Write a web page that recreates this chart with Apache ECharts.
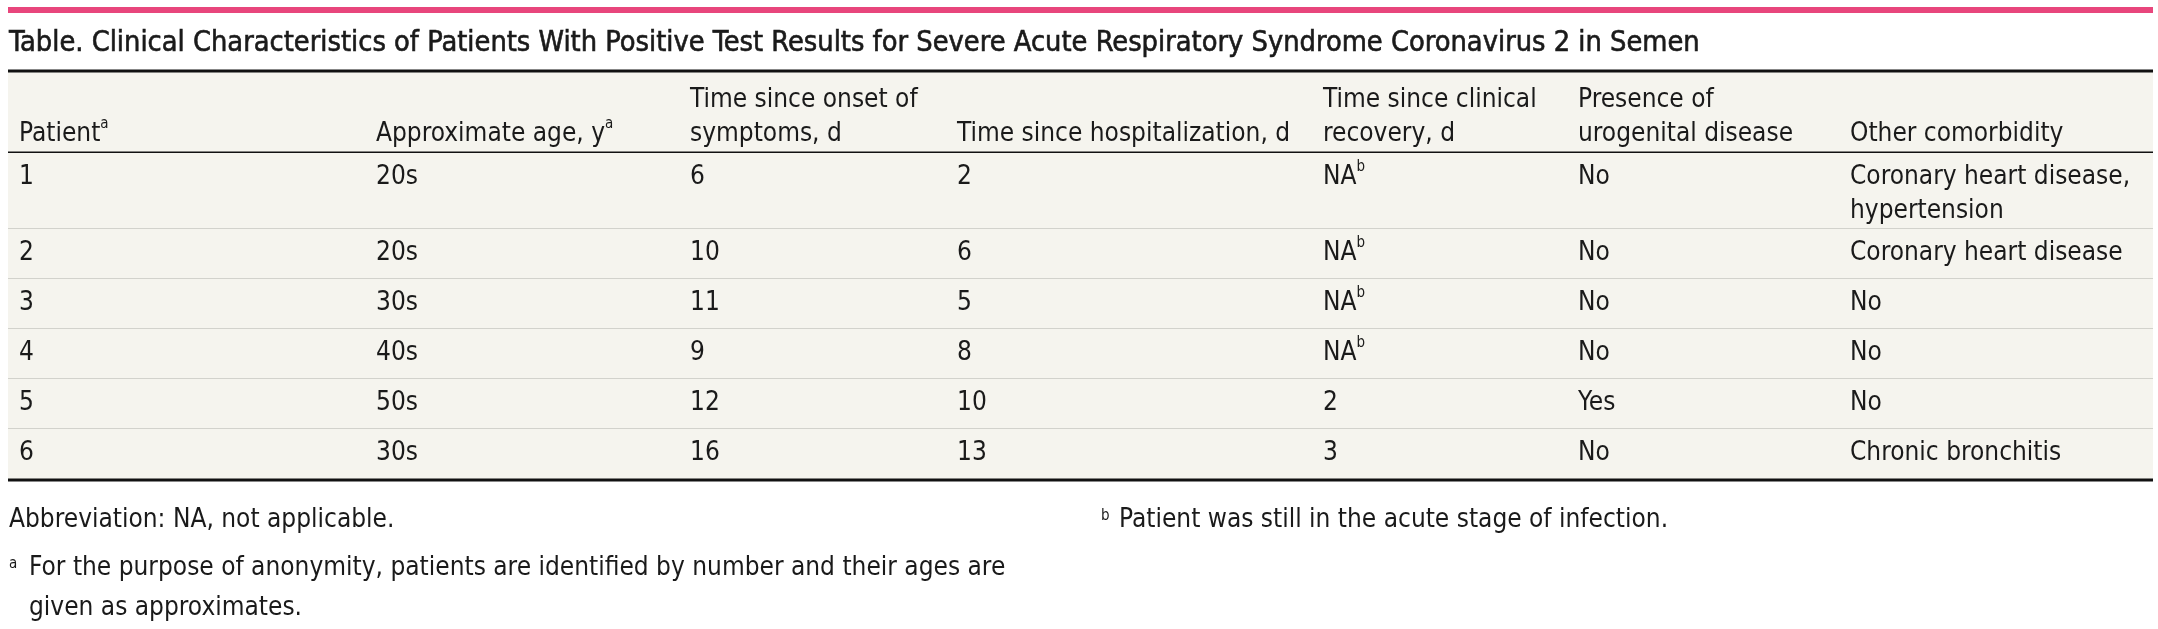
<!DOCTYPE html>
<html>
<head>
<meta charset="utf-8">
<script src="https://cdn.jsdelivr.net/npm/echarts@6/dist/echarts.min.js"></script>
<style>
  html, body { margin: 0; padding: 0; background: #fff; }
  #chart { width: 2158px; height: 629px; }
</style>
</head>
<body>
<div id="chart"></div>
<script>
  // table content
  var title = 'Table. Clinical Characteristics of Patients With Positive Test Results for Severe Acute Respiratory Syndrome Coronavirus 2 in Semen';
  var headers = [
    'Patient{sup|a}',
    'Approximate age, y{sup|a}',
    'Time since onset of\nsymptoms, d',
    'Time since hospitalization, d',
    'Time since clinical\nrecovery, d',
    'Presence of\nurogenital disease',
    'Other comorbidity'
  ];
  var patients = ['1', '2', '3', '4', '5', '6'];
  var ages = ['20s', '20s', '30s', '40s', '50s', '30s'];
  var onsetDays = ['6', '10', '11', '9', '12', '16'];
  var hospDays = ['2', '6', '5', '8', '10', '13'];
  var recoveryDays = ['NA{sup|b}', 'NA{sup|b}', 'NA{sup|b}', 'NA{sup|b}', '2', '3'];
  var urogenital = ['No', 'No', 'No', 'No', 'Yes', 'No'];
  var comorbidity = ['Coronary heart disease,\nhypertension', 'Coronary heart disease', 'No', 'No', 'No', 'Chronic bronchitis'];
  var footAbbrev = 'Abbreviation: NA, not applicable.';
  var footA = ['For the purpose of anonymity, patients are identified by number and their ages are', 'given as approximates.'];
  var footB = 'Patient was still in the acute stage of infection.';

  // layout (px)
  var W = 2158, H = 629;
  var tableLeft = 8, tableRight = 2153;
  var colLeft = [19, 376, 690, 957, 1323, 1578, 1850];
  var rowEdges = [71, 153, 229, 279, 329, 379, 429, 480];

  var FONT = '"Liberation Sans Narrow", "DejaVu Sans Condensed", "Liberation Sans", sans-serif';
  var TEXT = '#1a1a1a';
  var FS = 26;
  var supStyle = { fontSize: 15, lineHeight: 22, verticalAlign: 'top', fontFamily: FONT, fill: TEXT };

  var columns = [patients, ages, onsetDays, hospDays, recoveryDays, urogenital, comorbidity];
  var cells = [];
  headers.forEach(function (h, c) { cells.push([c, -1, h]); });
  patients.forEach(function (p, r) {
    columns.forEach(function (col, c) { cells.push([c, r, col[r]]); });
  });

  var bands = [];
  for (var i = 0; i < rowEdges.length - 1; i++) bands.push([i]);

  var chart = echarts.init(document.getElementById('chart'), null, { renderer: 'canvas' });

  chart.setOption({
    animation: false,
    backgroundColor: '#fff',
    grid: { left: 0, right: 0, top: 0, bottom: 0 },
    xAxis: { type: 'value', min: 0, max: W, show: false },
    yAxis: { type: 'value', min: 0, max: H, inverse: true, show: false },
    graphic: [
      { type: 'rect', shape: { x: tableLeft, y: 7, width: tableRight - tableLeft, height: 6 }, style: { fill: '#e8467c' } },
      { type: 'text', x: 9, y: 44, style: { text: title, fontSize: 28.7, fontFamily: FONT, fill: TEXT, stroke: TEXT, lineWidth: 0.6, verticalAlign: 'middle' } },
      { type: 'text', x: 9, y: 520, style: { text: footAbbrev, fontSize: FS, fontFamily: FONT, fill: TEXT, verticalAlign: 'middle' } },
      { type: 'text', x: 9, y: 568, style: { text: '{sup|a}', fontSize: FS, fontFamily: FONT, lineHeight: 34, verticalAlign: 'middle', rich: { sup: supStyle } } },
      { type: 'text', x: 29, y: 568, style: { text: footA[0], fontSize: FS, fontFamily: FONT, fill: TEXT, verticalAlign: 'middle' } },
      { type: 'text', x: 29, y: 608, style: { text: footA[1], fontSize: FS, fontFamily: FONT, fill: TEXT, verticalAlign: 'middle' } },
      { type: 'text', x: 1101, y: 520, style: { text: '{sup|b}', fontSize: FS, fontFamily: FONT, lineHeight: 34, verticalAlign: 'middle', rich: { sup: supStyle } } },
      { type: 'text', x: 1119, y: 520, style: { text: footB, fontSize: FS, fontFamily: FONT, fill: TEXT, verticalAlign: 'middle' } }
    ],
    series: [
      {
        type: 'custom',
        name: 'bands',
        silent: true,
        data: bands,
        renderItem: function (params, api) {
          var r = api.value(0);
          var tl = api.coord([tableLeft, rowEdges[r]]);
          var br = api.coord([tableRight, rowEdges[r + 1]]);
          var last = r === rowEdges.length - 2;
          var dark = r === 0 || last;
          var children = [
            { type: 'rect', shape: { x: tl[0], y: tl[1], width: br[0] - tl[0], height: br[1] - tl[1] }, style: { fill: '#f5f4ee' } },
            { type: 'line', shape: { x1: tl[0], y1: br[1], x2: br[0], y2: br[1] }, style: { stroke: dark ? '#111' : '#d2d2cc', lineWidth: dark ? 3 : 2 } }
          ];
          if (r === 0) {
            children.push({ type: 'line', shape: { x1: tl[0], y1: tl[1], x2: br[0], y2: tl[1] }, style: { stroke: '#111', lineWidth: 3 } });
          }
          return { type: 'group', children: children };
        }
      },
      {
        type: 'custom',
        name: 'cells',
        silent: true,
        data: cells.map(function (d) { return [d[0], d[1]]; }),
        renderItem: function (params, api) {
          var c = api.value(0), r = api.value(1);
          var txt = cells[params.dataIndex][2];
          var header = r < 0;
          // header cells sit on the rule below them, body cells hang from the row top
          var y = header ? rowEdges[1] - 2 : rowEdges[r + 1] + 7;
          var p = api.coord([colLeft[c], y]);
          return {
            type: 'text',
            x: p[0],
            y: p[1],
            style: {
              text: txt,
              fontSize: FS,
              fontFamily: FONT,
              fill: TEXT,
              lineHeight: 34,
              align: 'left',
              verticalAlign: header ? 'bottom' : 'top',
              rich: { sup: supStyle }
            }
          };
        }
      }
    ]
  });
</script>
</body>
</html>
